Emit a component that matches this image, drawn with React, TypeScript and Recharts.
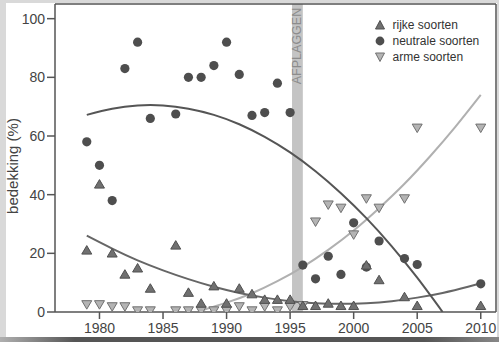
import { ComposedChart, Scatter, Line, XAxis, YAxis, ReferenceArea, ReferenceLine } from 'recharts'

// measurements per year (%)
const rijke: [number, number][] = [
  [1979, 21.1], [1980, 43.6], [1981, 20.1], [1982, 12.9], [1983, 15], [1984, 8.1], [1986, 22.8],
  [1987, 6.7], [1988, 3], [1989, 8.9], [1990, 3], [1991, 8.1], [1992, 6.2], [1993, 4.3], [1994, 4.3],
  [1995, 4.3], [1996, 2.2], [1997, 2.2], [1998, 3], [1999, 2.2], [2000, 2.2], [2001, 16], [2002, 11],
  [2004, 5.2], [2005, 2.2], [2010, 2.2],
]
const neutraal: [number, number][] = [
  [1979, 58], [1980, 50], [1981, 38], [1982, 83], [1983, 92], [1984, 66], [1986, 67.5], [1987, 80],
  [1988, 80], [1989, 84], [1990, 92], [1991, 81], [1992, 67], [1993, 68], [1994, 78], [1995, 68],
  [1996, 16], [1997, 11.3], [1998, 19], [1999, 12.8], [2000, 30.4], [2001, 15.3], [2002, 24.2],
  [2004, 18.2], [2005, 16.2], [2010, 9.6],
]
const arm: [number, number][] = [
  [1979, 2.5], [1980, 2.5], [1981, 1.8], [1982, 1.8], [1983, 0.4], [1984, 0.4], [1986, 0.4], [1987, 0.4],
  [1988, 0.4], [1989, 0.4], [1990, 0.4], [1991, 1.8], [1992, 0.4], [1993, 1.8], [1994, 0.4], [1995, 1.8],
  [1996, 2.2], [1997, 30.7], [1998, 36.5], [1999, 35.4], [2000, 26.3], [2001, 38.6], [2002, 35.4],
  [2004, 38.6], [2005, 62.7], [2010, 62.7],
]

// trend lines
const trendRijke: [number, number][] = [
  [1979, 26], [1981, 21.6], [1983, 17.6], [1985, 14.2], [1987, 11.2], [1989, 8.6], [1991, 6.5],
  [1993, 4.9], [1995, 3.7], [1997, 3.0], [1999, 2.8], [2001, 3.0], [2003, 3.7], [2005, 4.9],
  [2007, 6.5], [2009, 8.6], [2010, 9.8],
]
const trendNeutraal: [number, number][] = [
  [1979, 67.2], [1981, 69.3], [1983, 70.4], [1985, 70.4], [1987, 69.3], [1989, 67.2], [1991, 64],
  [1993, 59.7], [1995, 54.4], [1997, 48], [1999, 40.5], [2001, 32], [2003, 22.4], [2005, 11.7], [2007, 0],
]
const trendArm: [number, number][] = [
  [1988, 0.5], [1990, 3.2], [1992, 6.4], [1994, 10.5], [1996, 15.4], [1998, 21.2], [2000, 27.8],
  [2002, 35.4], [2004, 43.7], [2006, 53], [2008, 63.1], [2010, 74],
]

const xTicks = [1980, 1985, 1990, 1995, 2000, 2005, 2010]
const yTicks = [0, 20, 40, 60, 80, 100]
const legendItems = ['rijke soorten', 'neutrale soorten', 'arme soorten']

const toRows = (a: [number, number][]) => a.map(([year, v]) => ({ year, v }))

const FONT = 'Liberation Sans, Arial, sans-serif'
const X_MIN = 1976.5
const X_MAX = 2011.2
const Y_MAX = 105

const UpTri = ({ cx, cy }: any) => (
  <polygon
    points={`${cx},${cy - 4.5} ${cx - 5},${cy + 4} ${cx + 5},${cy + 4}`}
    fill="#707070"
    stroke="#505050"
    strokeWidth={1}
  />
)
const DownTri = ({ cx, cy }: any) => (
  <polygon
    points={`${cx - 5},${cy - 4} ${cx + 5},${cy - 4} ${cx},${cy + 4.5}`}
    fill="#b4b4b4"
    stroke="#707070"
    strokeWidth={1}
  />
)
const Dot = ({ cx, cy }: any) => <circle cx={cx} cy={cy} r={4.6} fill="#4e4e4e" />

const markers = [
  <svg width={12} height={12} key="a"><polygon points="6,1.5 1.5,10 10.5,10" fill="#707070" stroke="#505050" /></svg>,
  <svg width={12} height={12} key="b"><circle cx={6} cy={6} r={4.4} fill="#4e4e4e" /></svg>,
  <svg width={12} height={12} key="c"><polygon points="1.5,2 10.5,2 6,10.5" fill="#b4b4b4" stroke="#707070" /></svg>,
]

const LegendBox = () => (
  <div style={{ position: 'absolute', left: 374, top: 17, fontFamily: FONT, fontSize: 12, color: '#333' }}>
    {legendItems.map((t, i) => (
      <div key={t} style={{ display: 'flex', alignItems: 'center', height: 16 }}>
        {markers[i]}
        <span style={{ marginLeft: 6.5 }}>{t}</span>
      </div>
    ))}
  </div>
)

export default function App() {
  return (
    <div style={{ position: 'absolute', left: 0, top: 0, width: 499, height: 342, background: '#d9d9d9', overflow: 'hidden' }}>
      <div style={{ position: 'absolute', left: 6, top: 3, width: 491, height: 334, background: '#fff' }} />
      <div
        style={{
          position: 'absolute', left: 0, top: 337, width: 499, height: 5,
          background: 'linear-gradient(to right, #b0b0b0 0%, #555 15%, #555 85%, #888 100%)',
        }}
      />
      <div style={{ position: 'absolute', left: 0, top: 0 }}>
        <ComposedChart width={499} height={342} margin={{ top: 4, right: 3, left: 10, bottom: 5 }}>
          <XAxis
            type="number"
            dataKey="year"
            domain={[X_MIN, X_MAX]}
            ticks={xTicks}
            allowDataOverflow
            height={25}
            tickSize={7}
            tickMargin={4}
            stroke="#555"
            strokeWidth={1.5}
            tick={{ fill: '#444', fontSize: 14, fontFamily: FONT }}
          />
          <YAxis
            type="number"
            dataKey="v"
            domain={[0, Y_MAX]}
            ticks={yTicks}
            allowDataOverflow
            width={45}
            tickSize={8}
            tickMargin={2}
            stroke="#555"
            strokeWidth={1.5}
            tick={{ fill: '#444', fontSize: 14, fontFamily: FONT }}
            label={{
              content: () => (
                <text
                  x={12}
                  y={166}
                  transform="rotate(-90, 12, 166)"
                  textAnchor="middle"
                  dominantBaseline="central"
                  fill="#444"
                  fontSize={15}
                  fontFamily={FONT}
                >
                  bedekking (%)
                </text>
              ),
            }}
          />
          <ReferenceArea
            x1={1995.15}
            x2={1996}
            y1={0}
            y2={Y_MAX}
            fill="#c4c4c4"
            fillOpacity={1}
            stroke="none"
            label={{
              content: ({ viewBox }: any) => {
                const cx = viewBox.x + viewBox.width / 2
                const cy = viewBox.y + 42
                return (
                  <text
                    x={cx}
                    y={cy}
                    transform={`rotate(-90, ${cx}, ${cy})`}
                    textAnchor="middle"
                    dominantBaseline="central"
                    fill="#8c8c8c"
                    fontSize={12.5}
                    fontFamily={FONT}
                  >
                    AFPLAGGEN
                  </text>
                )
              },
            }}
          />
          <ReferenceLine y={Y_MAX} stroke="#555" strokeWidth={1.5} />
          <ReferenceLine x={X_MAX} stroke="#555" strokeWidth={1.5} />
          <Line data={toRows(trendArm)} dataKey="v" type="natural" stroke="#b0b0b0" strokeWidth={2} dot={false} legendType="none" isAnimationActive={false} />
          <Line data={toRows(trendRijke)} dataKey="v" type="natural" stroke="#666" strokeWidth={2} dot={false} legendType="none" isAnimationActive={false} />
          <Line data={toRows(trendNeutraal)} dataKey="v" type="natural" stroke="#555" strokeWidth={2} dot={false} legendType="none" isAnimationActive={false} />
          <Scatter name="arme soorten" data={toRows(arm)} dataKey="v" shape={DownTri} isAnimationActive={false} />
          <Scatter name="neutrale soorten" data={toRows(neutraal)} dataKey="v" shape={Dot} isAnimationActive={false} />
          <Scatter name="rijke soorten" data={toRows(rijke)} dataKey="v" shape={UpTri} isAnimationActive={false} />
        </ComposedChart>
      </div>
      <LegendBox />
    </div>
  )
}
